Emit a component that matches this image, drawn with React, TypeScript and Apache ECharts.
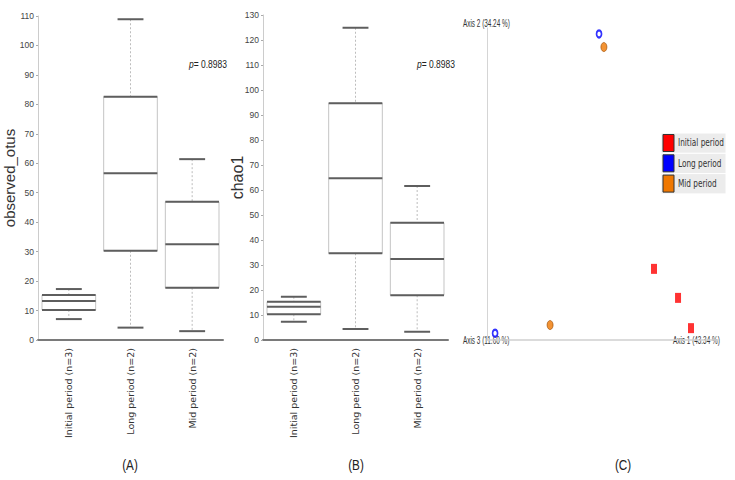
import React, { useEffect, useRef } from "react";
import * as echarts from "echarts";

// ---------- data ----------
const categories = ["Initial period (n=3)", "Long period (n=2)", "Mid period (n=2)"];
// [min, Q1, median, Q3, max]
const observedOtus = [
  [7.1, 10.2, 13.2, 15.3, 17.3],
  [4.2, 30.3, 56.6, 82.6, 108.9],
  [3.0, 17.7, 32.5, 46.9, 61.4],
];
const chao1 = [
  [7.3, 10.3, 13.3, 15.3, 17.3],
  [4.4, 34.7, 64.7, 94.7, 124.9],
  [3.3, 17.9, 32.4, 46.9, 61.6],
];
const pValue = "= 0.8983";
// PCoA coordinates (Axis 1, Axis 2), arbitrary units
const initialPts = [
  [72.3, 22.8],
  [82.7, 13.5],
  [88.3, 3.8],
];
const longPts = [
  [48.5, 98.1],
  [3.5, 2.2],
];
const midPts = [
  [50.6, 93.9],
  [27.3, 4.8],
];
const groupNames = ["Initial period", "Long period", "Mid period"];
const groupColors = ["#ff0000", "#0000ff", "#f07800"];
const axisTitles = ["Axis 1 (43.34 %)", "Axis 2 (34.24 %)", "Axis 3 (11.60 %)"];
const panelLabels = ["(A)", "(B)", "(C)"];

const FONT = "Liberation Sans, Arial, sans-serif";

function boxRender(params: any, api: any) {
  const i = api.value(0);
  const pMin = api.coord([i, api.value(1)]);
  const pQ1 = api.coord([i, api.value(2)]);
  const pMed = api.coord([i, api.value(3)]);
  const pQ3 = api.coord([i, api.value(4)]);
  const pMax = api.coord([i, api.value(5)]);
  const band = api.size([1, 0])[0];
  const bw = band * 0.87;
  const cw = band * 0.42;
  const cx = pMed[0];
  const dark = "#5e5e5e";
  const hline = (y: number, w: number) => ({
    type: "line",
    shape: { x1: cx - w / 2, y1: y, x2: cx + w / 2, y2: y },
    style: { stroke: dark, lineWidth: 2 },
  });
  return {
    type: "group",
    children: [
      {
        type: "line",
        shape: { x1: cx, y1: pMax[1], x2: cx, y2: pQ3[1] },
        style: { stroke: "#bdbdbd", lineWidth: 1, lineDash: [2, 2] },
      },
      {
        type: "line",
        shape: { x1: cx, y1: pQ1[1], x2: cx, y2: pMin[1] },
        style: { stroke: "#bdbdbd", lineWidth: 1, lineDash: [2, 2] },
      },
      {
        type: "rect",
        shape: { x: cx - bw / 2, y: pQ3[1], width: bw, height: pQ1[1] - pQ3[1] },
        style: { fill: "#ffffff", stroke: "#c4c4c4", lineWidth: 1 },
      },
      hline(pQ3[1], bw),
      hline(pQ1[1], bw),
      hline(pMed[1], bw),
      hline(pMax[1], cw),
      hline(pMin[1], cw),
    ],
  };
}

function catAxis(gridIndex: number) {
  return {
    type: "category",
    gridIndex,
    data: categories,
    axisLine: { lineStyle: { color: "#7a7a7a", width: 2 } },
    axisTick: { alignWithLabel: true, length: 4, lineStyle: { color: "#7a7a7a" } },
    axisLabel: {
      rotate: 90,
      fontSize: 9.5,
      margin: 8,
      color: "#333",
      fontFamily: "DejaVu Sans, sans-serif",
    },
    splitLine: { show: false },
  };
}

function valAxis(gridIndex: number, max: number, name: string, nameGap: number, nameSize: number) {
  return {
    type: "value",
    gridIndex,
    min: 0,
    max,
    interval: 10,
    axisLine: { show: true, lineStyle: { color: "#cccccc" } },
    axisTick: { show: true, length: 2, lineStyle: { color: "#aaaaaa" } },
    axisLabel: { fontSize: 8.5, margin: 4, color: "#444", fontFamily: FONT },
    splitLine: { show: false },
    name,
    nameLocation: "middle",
    nameGap,
    nameMoveOverlap: false,
    nameTextStyle: { fontSize: nameSize, color: "#333", fontFamily: FONT },
  };
}

export default function App() {
  const ref = useRef<HTMLDivElement>(null);
  useEffect(() => {
    if (!ref.current) return;
    const chart = echarts.init(ref.current, undefined, { renderer: "svg" });
    const legendRows = groupNames.map((n, k) => ({
      type: "group",
      children: [
        {
          type: "rect",
          shape: { x: 661, y: 133 + k * 20.3, width: 65, height: 20.3 },
          style: { fill: "#ececec", stroke: "#ffffff", lineWidth: 1 },
        },
        {
          type: "rect",
          shape: { x: 663, y: 134.5 + k * 20.3, width: 11, height: 17 },
          style: { fill: groupColors[k], stroke: "#333", lineWidth: 1 },
        },
        {
          type: "text",
          x: 678,
          y: 143 + k * 20.3,
          scaleX: 0.7,
          style: {
            text: n,
            fontSize: 10.5,
            fontFamily: "DejaVu Sans, sans-serif",
            fill: "#333",
            align: "left",
            verticalAlign: "middle",
          },
        },
      ],
    }));
    const pText = (x: number) => ({
      type: "text",
      x,
      y: 65,
      scaleX: 0.85,
      style: {
        text: "{i|p}{n|" + pValue + "}",
        rich: {
          i: { fontStyle: "italic", fontSize: 10, fontFamily: FONT, fill: "#222" },
          n: { fontSize: 10, fontFamily: FONT, fill: "#222" },
        },
        align: "left",
        verticalAlign: "middle",
      },
    });
    const axText = (t: string, x: number, y: number) => ({
      type: "text",
      x,
      y,
      scaleX: 0.58,
      style: { text: t, fontSize: 11, fontFamily: FONT, fill: "#333", align: "left", verticalAlign: "middle" },
    });
    const capText = (t: string, x: number) => ({
      type: "text",
      x,
      y: 465,
      scaleX: 0.78,
      style: { text: t, fontSize: 15, fontFamily: FONT, fill: "#222", align: "center", verticalAlign: "middle" },
    });

    chart.setOption({
      animation: false,
      grid: [
        { left: 38, right: 512, top: 16, bottom: 140 },
        { left: 263, right: 287, top: 15, bottom: 140 },
        { left: 487, right: 17, top: 28, bottom: 140 },
      ],
      xAxis: [
        catAxis(0),
        catAxis(1),
        {
          type: "value",
          gridIndex: 2,
          min: 0,
          max: 100,
          axisLine: { show: true, lineStyle: { color: "#cfcfcf", width: 1.5 } },
          axisTick: { show: false },
          axisLabel: { show: false },
          splitLine: { show: false },
        },
      ],
      yAxis: [
        valAxis(0, 110, "observed_otus", 21, 15),
        valAxis(1, 130, "chao1", 18, 16),
        {
          type: "value",
          gridIndex: 2,
          min: 0,
          max: 100,
          axisLine: { show: true, lineStyle: { color: "#d5d5d5", width: 1 } },
          axisTick: { show: false },
          axisLabel: { show: false },
          splitLine: { show: false },
        },
      ],
      series: [
        {
          type: "custom",
          xAxisIndex: 0,
          yAxisIndex: 0,
          renderItem: boxRender,
          encode: { x: 0, y: [1, 2, 3, 4, 5] },
          data: observedOtus.map((d, i) => [i, ...d]),
        },
        {
          type: "custom",
          xAxisIndex: 1,
          yAxisIndex: 1,
          renderItem: boxRender,
          encode: { x: 0, y: [1, 2, 3, 4, 5] },
          data: chao1.map((d, i) => [i, ...d]),
        },
        {
          type: "scatter",
          name: groupNames[0],
          xAxisIndex: 2,
          yAxisIndex: 2,
          symbol: "rect",
          symbolSize: [6, 10],
          itemStyle: { color: groupColors[0] },
          data: initialPts,
        },
        {
          type: "scatter",
          name: groupNames[1],
          xAxisIndex: 2,
          yAxisIndex: 2,
          symbol: "emptyCircle",
          symbolSize: [5, 7],
          itemStyle: { color: groupColors[1], borderWidth: 1.5 },
          data: longPts,
        },
        {
          type: "scatter",
          name: groupNames[2],
          xAxisIndex: 2,
          yAxisIndex: 2,
          symbol: "circle",
          symbolSize: [6, 9],
          itemStyle: { color: groupColors[2], borderColor: "#9a4a00", borderWidth: 0.8 },
          data: midPts,
        },
      ],
      graphic: [
        pText(189),
        pText(417),
        axText(axisTitles[1], 463, 23),
        axText(axisTitles[2], 463, 340),
        axText(axisTitles[0], 673, 340),
        ...legendRows,
        capText(panelLabels[0], 130),
        capText(panelLabels[1], 356),
        capText(panelLabels[2], 623),
      ],
    });
    return () => chart.dispose();
  }, []);
  return (
    <div
      ref={ref}
      style={{ position: "absolute", left: 0, top: 0, width: 735, height: 480, background: "#fff" }}
    />
  );
}
